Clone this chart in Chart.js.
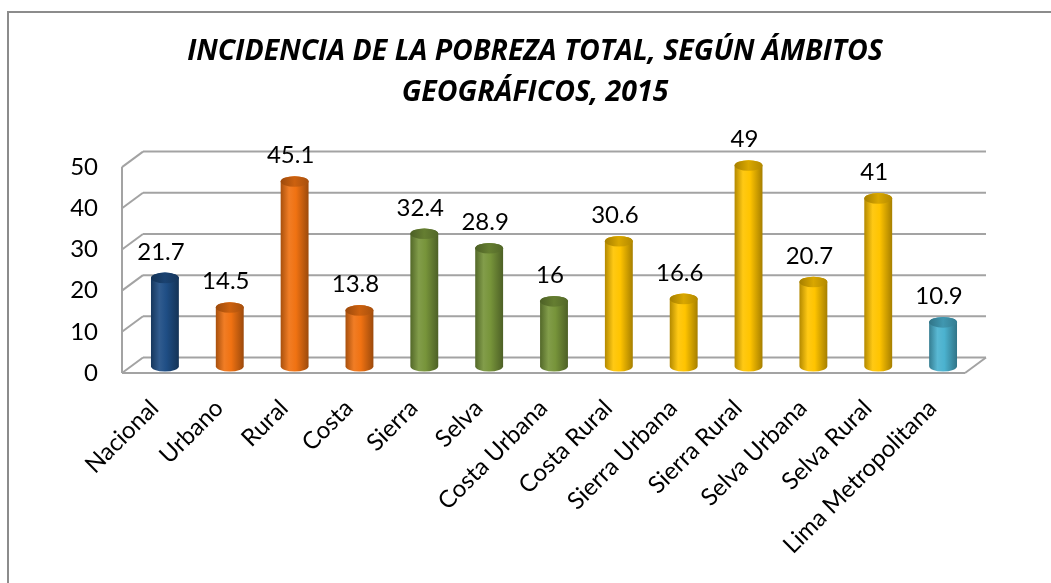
<!DOCTYPE html>
<html>
<head>
<meta charset="utf-8">
<script src="https://cdn.jsdelivr.net/npm/chart.js@4.4.1/dist/chart.umd.min.js"></script>
<style>
  html, body { margin: 0; padding: 0; background: #fff; }
  #wrap { position: relative; width: 1051px; height: 583px; overflow: hidden; }
  #frame { position: absolute; left: 7px; top: 11px; width: 1100px; height: 620px;
           border: 2px solid #8c8c8c; box-sizing: border-box; }
  canvas { position: absolute; left: 0; top: 0; }
</style>
</head>
<body>
<div id="wrap">
  <div id="frame"></div>
  <canvas id="myChart" width="1051" height="583"></canvas>
</div>
<script>
const categories = ["Nacional", "Urbano", "Rural", "Costa", "Sierra", "Selva",
  "Costa Urbana", "Costa Rural", "Sierra Urbana", "Sierra Rural",
  "Selva Urbana", "Selva Rural", "Lima Metropolitana"];
const values = [21.7, 14.5, 45.1, 13.8, 32.4, 28.9, 16, 30.6, 16.6, 49, 20.7, 41, 10.9];
// grupo de color de cada barra, tal como aparece en el gráfico
const groups = ["azul", "naranja", "naranja", "naranja", "verde", "verde",
  "verde", "amarillo", "amarillo", "amarillo", "amarillo", "amarillo", "celeste"];
const yTicks = [0, 10, 20, 30, 40, 50];
const titleLines = ["INCIDENCIA DE LA POBREZA TOTAL, SEGÚN ÁMBITOS", "GEOGRÁFICOS, 2015"];

const groupColors = {
  azul: "#1f4e85",
  naranja: "#f07212",
  verde: "#77943a",
  amarillo: "#ffc400",
  celeste: "#4bb2cf",
};

// profundidad del efecto 3D
const DX = 21;
const DY = -15.5;

function shade(hex, f) {
  const n = parseInt(hex.slice(1), 16);
  let r = (n >> 16) & 255, g = (n >> 8) & 255, b = n & 255;
  if (f < 0) {
    r = r * (1 + f); g = g * (1 + f); b = b * (1 + f);
  } else {
    r = r + (255 - r) * f; g = g + (255 - g) * f; b = b + (255 - b) * f;
  }
  return `rgb(${Math.round(r)},${Math.round(g)},${Math.round(b)})`;
}

function line(ctx, x1, y1, x2, y2) {
  ctx.beginPath();
  ctx.moveTo(x1, y1);
  ctx.lineTo(x2, y2);
  ctx.stroke();
}

function cylinder(ctx, x, top, base, w, color) {
  const rx = w / 2, ry = w * 0.19;
  const l = x - rx, r = x + rx;
  const g = ctx.createLinearGradient(l, 0, r, 0);
  g.addColorStop(0, shade(color, -0.3));
  g.addColorStop(0.3, shade(color, 0.08));
  g.addColorStop(0.55, color);
  g.addColorStop(1, shade(color, -0.35));
  ctx.beginPath();
  ctx.moveTo(l, top);
  ctx.lineTo(l, base);
  ctx.ellipse(x, base, rx, ry, 0, Math.PI, 0, true);
  ctx.lineTo(r, top);
  ctx.ellipse(x, top, rx, ry, 0, 0, Math.PI, true);
  ctx.closePath();
  ctx.fillStyle = g;
  ctx.fill();

  const gt = ctx.createLinearGradient(l, 0, r, 0);
  gt.addColorStop(0, shade(color, -0.35));
  gt.addColorStop(0.5, shade(color, -0.15));
  gt.addColorStop(1, shade(color, -0.3));
  ctx.beginPath();
  ctx.ellipse(x, top, rx, ry, 0, 0, Math.PI * 2);
  ctx.fillStyle = gt;
  ctx.fill();
}

const box3d = {
  id: "box3d",
  beforeDatasetsDraw(chart) {
    const ctx = chart.ctx;
    const area = chart.chartArea;
    const ys = chart.scales.y;
    const x0 = area.left, x1 = area.right;
    const y0 = ys.getPixelForValue(0);

    ctx.save();
    ctx.strokeStyle = "#a3a3a3";
    ctx.lineWidth = 2;
    yTicks.forEach((v) => {
      const y = ys.getPixelForValue(v);
      line(ctx, x0 + DX, y + DY, x1 + DX, y + DY);
      line(ctx, x0, y, x0 + DX, y + DY);
    });
    line(ctx, x0, y0, x0, ys.getPixelForValue(50));
    line(ctx, x0, y0, x1, y0);
    line(ctx, x1, y0, x1 + DX, y0 + DY);

    // cilindros y etiquetas de valor
    const meta = chart.getDatasetMeta(0);
    meta.data.forEach((bar, i) => {
      const p = bar.getProps(["x", "y", "base", "width"], true);
      const cx = p.x + DX / 2;
      const top = p.y + DY / 2 + 2;
      const base = p.base + DY / 2 + 1;
      cylinder(ctx, cx, top, base, p.width, groupColors[groups[i]]);

      ctx.fillStyle = "#000";
      ctx.font = "24px Lato";
      ctx.textAlign = "center";
      ctx.textBaseline = "middle";
      ctx.fillText(String(values[i]), cx - 4, top - 26);
    });
    ctx.restore();
    return false;
  },
};

const ctx = document.getElementById("myChart").getContext("2d");
new Chart(ctx, {
  type: "bar",
  data: {
    labels: categories,
    datasets: [{
      data: values,
      backgroundColor: groups.map((g) => groupColors[g]),
      barPercentage: 0.43,
      categoryPercentage: 1,
    }],
  },
  options: {
    responsive: false,
    animation: false,
    devicePixelRatio: 1,
    layout: { padding: { left: 60, right: 41, top: 0, bottom: 0 } },
    plugins: {
      legend: { display: false },
      tooltip: { enabled: false },
      title: {
        display: true,
        text: titleLines,
        color: "#000",
        font: { family: "Open Sans", size: 28.5, weight: "bold", style: "italic", lineHeight: 1.44 },
        padding: { top: 31, bottom: 54 },
      },
    },
    scales: {
      x: {
        grid: { display: false, drawTicks: false },
        border: { display: false },
        ticks: {
          autoSkip: false,
          minRotation: 45,
          maxRotation: 45,
          padding: 21,
          color: "#000",
          font: { family: "Lato", size: 24 },
        },
        afterFit(s) { s.height = 583 - 373; },
      },
      y: {
        min: 0,
        max: 50,
        grid: { display: false, drawTicks: false },
        border: { display: false },
        ticks: {
          stepSize: 10,
          padding: 24,
          color: "#000",
          font: { family: "Lato", size: 24 },
        },
        afterFit(s) { s.width = 122 - 60; },
      },
      // eje vacío a la derecha: solo reserva el margen derecho del área
      margen: {
        type: "linear",
        position: "right",
        grid: { display: false, drawTicks: false },
        border: { display: false },
        ticks: { display: false },
        afterFit(s) { s.width = 1051 - 41 - 965; },
      },
    },
  },
  plugins: [box3d],
});
</script>
</body>
</html>
